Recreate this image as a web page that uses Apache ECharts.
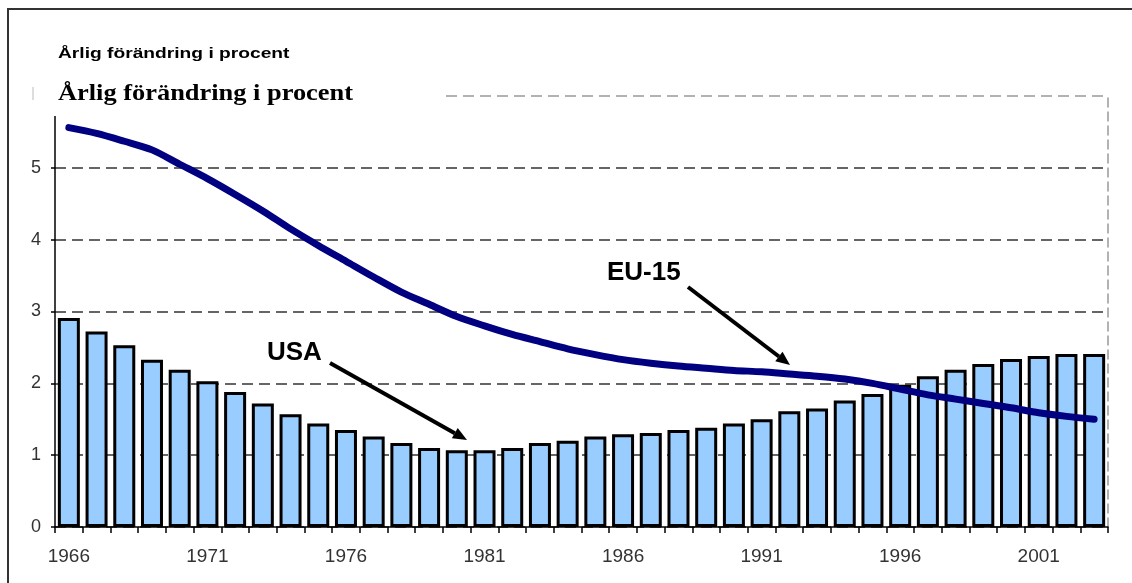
<!DOCTYPE html>
<html>
<head>
<meta charset="utf-8">
<script src="https://cdn.jsdelivr.net/npm/echarts@6/dist/echarts.min.js"></script>
<style>
  html, body { margin: 0; padding: 0; background: #fff; }
  #chart { width: 1132px; height: 583px; }
</style>
</head>
<body>
<div id="chart"></div>
<script>
// Years 1966–2003
const years = [];
for (let y = 1966; y <= 2003; y++) years.push(String(y));

// USA: annual change, percent (bars)
const usa = [
  2.91, 2.72, 2.53, 2.33, 2.19, 2.03, 1.88, 1.72, 1.57, 1.44,
  1.35, 1.26, 1.17, 1.10, 1.07, 1.07, 1.10, 1.17, 1.20, 1.26,
  1.29, 1.31, 1.35, 1.38, 1.44, 1.50, 1.61, 1.65, 1.76, 1.85,
  1.98, 2.10, 2.19, 2.27, 2.34, 2.38, 2.41, 2.41
];

// EU-15: annual change, percent (line)
const eu15 = [
  5.56, 5.48, 5.37, 5.25, 5.05, 4.85, 4.63, 4.40, 4.15, 3.92,
  3.70, 3.48, 3.27, 3.10, 2.93, 2.80, 2.68, 2.58, 2.48, 2.40,
  2.33, 2.28, 2.24, 2.21, 2.18, 2.16, 2.13, 2.10, 2.06, 2.00,
  1.92, 1.84, 1.78, 1.72, 1.66, 1.59, 1.54, 1.50
];

const titleText = 'Årlig förändring i procent';

const chart = echarts.init(document.getElementById('chart'), null, { renderer: 'canvas' });

// Straight arrow with a filled head, as graphic elements
function arrow(x1, y1, x2, y2) {
  const ang = Math.atan2(y2 - y1, x2 - x1);
  const len = 14, half = 6;
  const bx = x2 - len * Math.cos(ang), by = y2 - len * Math.sin(ang);
  const px = -Math.sin(ang) * half, py = Math.cos(ang) * half;
  return [
    { type: 'line', z: 100, shape: { x1, y1, x2: bx, y2: by },
      style: { stroke: '#000', lineWidth: 4 } },
    { type: 'polygon', z: 100,
      shape: { points: [[x2, y2], [bx + px, by + py], [bx - px, by - py]] },
      style: { fill: '#000' } }
  ];
}

const option = {
  animation: false,
  backgroundColor: '#fff',
  grid: { left: 55, right: 24, top: 96, bottom: 56, containLabel: false },
  xAxis: {
    type: 'category',
    data: years,
    boundaryGap: true,
    axisLine: { lineStyle: { color: '#000', width: 1.5 } },
    axisTick: { show: true, interval: 0, length: 6, lineStyle: { color: '#000', width: 1.5 } },
    axisLabel: {
      interval: 4, margin: 20, color: '#333',
      fontFamily: 'Liberation Sans, Arial, sans-serif', fontSize: 19
    },
    splitLine: { show: false }
  },
  yAxis: [{
    type: 'value',
    min: 0, max: 6, interval: 1,
    axisLine: { show: true, lineStyle: { color: '#000', width: 1.5 } },
    axisTick: { show: true, length: 4, lineStyle: { color: '#000', width: 1.5 } },
    axisLabel: {
      showMaxLabel: false, margin: 14, color: '#333',
      fontFamily: 'Liberation Sans, Arial, sans-serif', fontSize: 18
    },
    splitLine: {
      show: true,
      lineStyle: {
        color: ['#333', '#333', '#333', '#333', '#333', '#333', '#999'],
        width: 1.5, type: [11, 6]
      }
    }
  }, {
    type: 'value',
    position: 'right',
    min: 0, max: 6, interval: 1,
    axisLine: { show: true, lineStyle: { color: '#999', width: 1.5, type: [9, 5] } },
    axisTick: { show: false },
    axisLabel: { show: false },
    splitLine: { show: false }
  }],
  series: [{
    name: 'USA',
    type: 'bar',
    data: usa,
    barWidth: 22,
    itemStyle: { color: '#99ccff', borderColor: '#000', borderWidth: 3 },
    z: 2
  }, {
    name: 'EU-15',
    type: 'line',
    data: eu15,
    smooth: 0.3,
    symbol: 'none',
    lineStyle: { color: '#000080', width: 7, cap: 'round' },
    z: 3
  }],
  graphic: [
    // outer frame
    { type: 'rect', z: 90, shape: { x: 8, y: 9, width: 1200, height: 700 },
      style: { fill: null, stroke: '#333', lineWidth: 2 } },
    // small heading
    { type: 'text', z: 100, x: 58, y: 46, scaleX: 1.28,
      style: { text: titleText, fill: '#000',
        font: 'bold 15px "Liberation Sans", Arial, sans-serif' } },
    // white box behind the serif heading
    { type: 'rect', z: 95, shape: { x: 34, y: 78, width: 406, height: 38 },
      style: { fill: '#fff' } },
    { type: 'line', z: 96, shape: { x1: 33, y1: 87, x2: 33, y2: 100 },
      style: { stroke: '#bbb', lineWidth: 1 } },
    { type: 'text', z: 100, x: 58, y: 82, scaleX: 1.1,
      style: { text: titleText, fill: '#000',
        font: 'bold 24px "Liberation Serif", "Times New Roman", serif' } },
    // series labels
    { type: 'text', z: 100, x: 267, y: 340,
      style: { text: 'USA', fill: '#000',
        font: 'bold 26px "Liberation Sans", Arial, sans-serif' } },
    { type: 'text', z: 100, x: 607, y: 260,
      style: { text: 'EU-15', fill: '#000',
        font: 'bold 26px "Liberation Sans", Arial, sans-serif' } },
    ...arrow(330, 363, 467, 440),
    ...arrow(688, 287, 790, 365)
  ]
};

chart.setOption(option);
</script>
</body>
</html>
